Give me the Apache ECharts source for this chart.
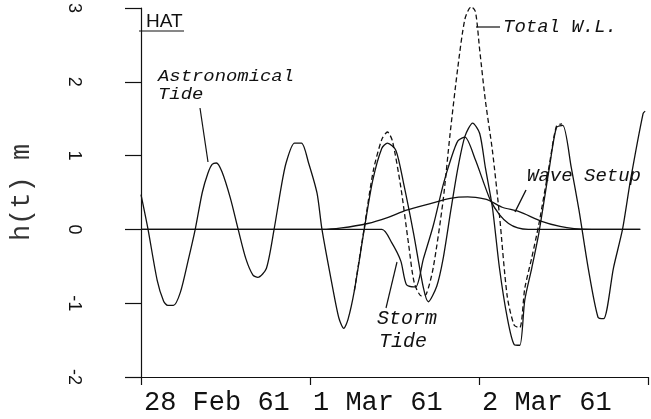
<!DOCTYPE html>
<html><head><meta charset="utf-8">
<script src="https://cdn.jsdelivr.net/npm/echarts@6/dist/echarts.min.js"></script>
<style>html,body{margin:0;padding:0;background:#fff}#c{width:651px;height:419px}</style>
</head><body><div id="c"></div>
<script>
// x in hours from 28 Feb 61 00:00
const dayTicks = [0, 24, 48, 72];
const dayLabels = ['28 Feb 61', '1 Mar 61', '2 Mar 61', ''];
const yTicks = [-2, -1, 0, 1, 2, 3];
const yTickLabels = ['-2', '-1', '0', '1', '2', '3'];

const astroHours = [0,1.0,2.3,3.2,3.8,4.6,5.6,6.7,7.7,8.7,9.5,10.1,10.7,11.5,12.7,13.8,14.9,15.9,16.6,17.8,18.9,19.9,20.6,21.8,22.8,23.8,25.0,25.7,27.1,28.1,28.8,29.4,30.3,31.7,32.9,34.2,35.0,36.2,37.3,38.7,40.1,40.8,42.0,42.9,44.0,45.0,46.0,47.1,48.1,48.9,49.9,50.9,52.0,53.0,53.8,54.5,55.5,56.5,58.0,59.0,59.9,61.1,62.2,63.5,64.9,65.7,67.1,68.4,69.5,71.3,71.6];
const astroValues = [0.47,0.0,-0.69,-0.97,-1.03,-1.03,-0.85,-0.42,0.0,0.5,0.76,0.88,0.9,0.78,0.42,0.0,-0.4,-0.62,-0.65,-0.53,0.0,0.57,0.9,1.17,1.17,0.9,0.49,0.0,-0.73,-1.2,-1.34,-1.22,-0.83,0.0,0.66,1.1,1.17,1.07,0.62,-0.05,-0.79,-0.98,-0.77,-0.4,0.26,0.83,1.26,1.44,1.3,0.84,0.3,-0.52,-1.19,-1.56,-1.57,-0.96,-0.52,-0.05,0.84,1.38,1.41,0.84,0.26,-0.52,-1.19,-1.21,-0.52,0.01,0.66,1.57,1.6];

const surgeHours = [0,34.2,35.6,36.9,37.7,39.0,40.1,41.5,42.9,44.0,45.0,46.0,47.5,48.6,49.6,50.9,52.2,53.5,55.0,70.9];
const surgeValues = [0,0,-0.18,-0.43,-0.75,-0.78,-0.4,0.05,0.6,0.95,1.2,1.25,0.94,0.65,0.4,0.2,0.08,0.02,0,0];

const setupHours = [0,25.7,28.5,32.2,35.0,37.7,41.1,43.9,46.4,48.9,49.9,51.3,53.7,56.9,59.5,61.5,64,70.9];
const setupValues = [0,0,0.02,0.08,0.16,0.26,0.35,0.42,0.44,0.41,0.37,0.3,0.24,0.11,0.04,0.01,0,0];

const totalHours = [30.3,31.7,33.0,34.2,35.0,35.7,36.9,38.0,38.8,39.8,40.5,41.5,42.9,43.9,45.0,46.0,46.9,47.5,48.1,48.9,49.9,50.9,52.0,53.0,53.8,54.5,55.5,56.5,58.0,59.0,59.8];
const totalValues = [-0.83,0.02,0.8,1.22,1.32,1.2,0.57,-0.2,-0.72,-0.9,-0.88,-0.52,0.39,1.3,2.2,2.85,3.02,2.95,2.43,1.75,1.07,0.2,-0.9,-1.3,-1.33,-0.8,-0.38,0.07,0.88,1.4,1.43];

const pairs = (xs, ys) => xs.map((x, i) => [x, ys[i]]);
const ink = '#111';
const mono = '"Liberation Mono", "DejaVu Sans Mono", monospace';

const chart = echarts.init(document.getElementById('c'), null, {renderer: 'canvas'});
const lineSeries = (name, xs, ys, type) => ({
  name, type: 'line', data: pairs(xs, ys), symbol: 'none', smooth: 0.25,
  lineStyle: {color: ink, width: 1.3, type: type || 'solid'}, z: type ? 3 : 2, animation: false
});

chart.setOption({
  animation: false,
  backgroundColor: '#fff',
  grid: {left: 133, right: 3, top: 8, bottom: 42},
  xAxis: {
    type: 'value', min: dayTicks[0], max: dayTicks[dayTicks.length - 1], interval: 24,
    axisLine: {show: true, onZero: false, lineStyle: {color: ink, width: 1.2}},
    axisTick: {show: true, length: 8, lineStyle: {color: ink, width: 1.2}},
    splitLine: {show: false},
    axisLabel: {
      formatter: v => dayLabels[dayTicks.indexOf(v)] || '',
      align: 'left', padding: [0, 0, 0, 3], margin: 12,
      fontFamily: mono, fontSize: 27, color: ink, showMaxLabel: true
    }
  },
  yAxis: {
    type: 'value', min: yTicks[0], max: yTicks[yTicks.length - 1], interval: 1,
    axisLine: {show: true, lineStyle: {color: ink, width: 1.2}},
    axisTick: {show: true, length: 16, lineStyle: {color: ink, width: 1.2}},
    splitLine: {show: false},
    axisLabel: {
      rotate: -90, margin: 58,
      formatter: v => yTickLabels[yTicks.indexOf(v)] || '',
      fontFamily: '"Liberation Sans", sans-serif', fontSize: 18, color: ink
    },
    name: 'h(t) m', nameLocation: 'middle', nameGap: 106, nameRotate: 90,
    nameTextStyle: {fontFamily: mono, fontSize: 27, color: '#333'}
  },
  series: [
    lineSeries('Astronomical Tide', astroHours, astroValues),
    lineSeries('Storm Tide', surgeHours, surgeValues),
    lineSeries('Wave Setup', setupHours, setupValues),
    lineSeries('Total W.L.', totalHours, totalValues, [5, 3])
  ],
  graphic: [
    {type: 'text', x: 146, y: 12, style: {text: 'HAT', font: '19px "Liberation Sans", sans-serif', fill: ink}},
    {type: 'line', shape: {x1: 139, y1: 31, x2: 184, y2: 31}, style: {stroke: ink, lineWidth: 1.2}},
    {type: 'text', x: 158, y: 69, scaleX: 1.18, style: {text: 'Astronomical', font: 'italic 16px ' + mono, fill: ink}},
    {type: 'text', x: 158, y: 87, scaleX: 1.18, style: {text: 'Tide', font: 'italic 16px ' + mono, fill: ink}},
    {type: 'line', shape: {x1: 200, y1: 108, x2: 208, y2: 162}, style: {stroke: ink, lineWidth: 1.2}},
    {type: 'line', shape: {x1: 476, y1: 27, x2: 500, y2: 27}, style: {stroke: ink, lineWidth: 1.2}},
    {type: 'text', x: 503, y: 17, style: {text: 'Total W.L.', font: 'italic 19px ' + mono, fill: ink}},
    {type: 'text', x: 527, y: 166, style: {text: 'Wave Setup', font: 'italic 19px ' + mono, fill: ink}},
    {type: 'line', shape: {x1: 526, y1: 190, x2: 515, y2: 212}, style: {stroke: ink, lineWidth: 1.4}},
    {type: 'text', x: 377, y: 309, style: {text: 'Storm', font: 'italic 20px ' + mono, fill: ink}},
    {type: 'text', x: 379, y: 332, style: {text: 'Tide', font: 'italic 20px ' + mono, fill: ink}},
    {type: 'line', shape: {x1: 386, y1: 308, x2: 397, y2: 262}, style: {stroke: ink, lineWidth: 1.2}}
  ]
});
</script></body></html>
